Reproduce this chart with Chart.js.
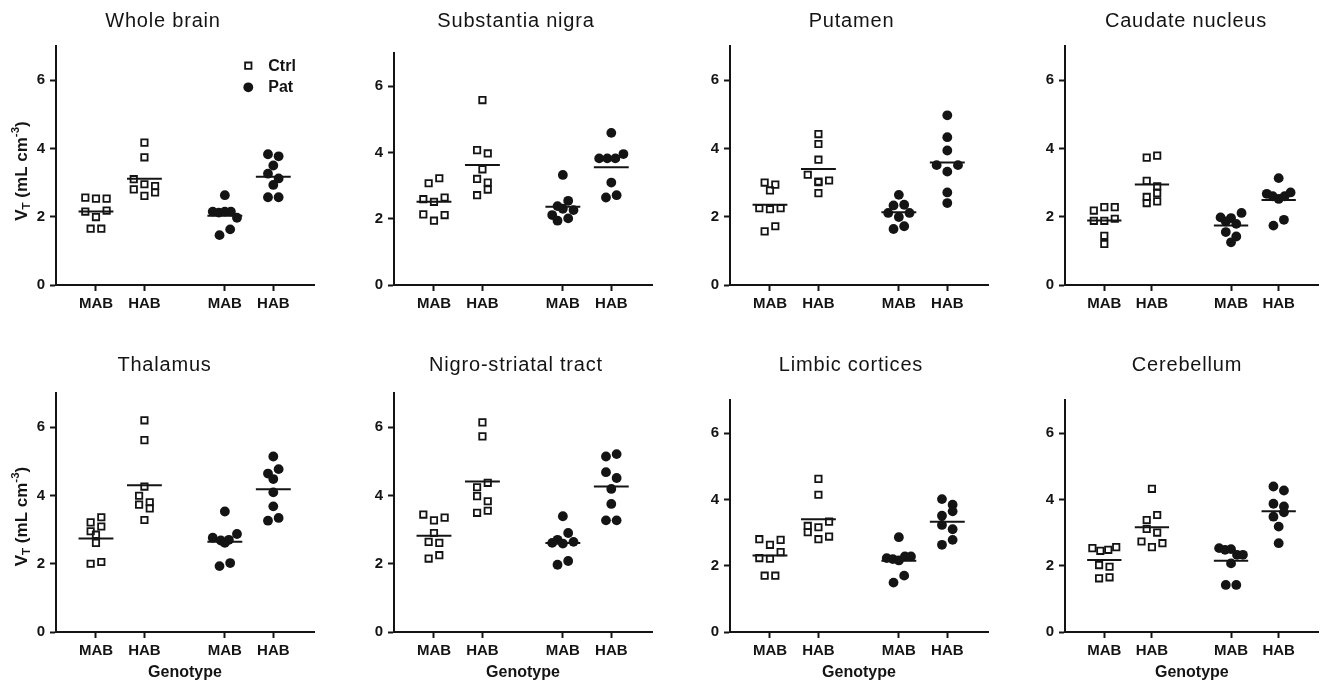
<!DOCTYPE html>
<html>
<head>
<meta charset="utf-8">
<title>VT by genotype</title>
<script src="https://cdn.jsdelivr.net/npm/chart.js@4.4.0/dist/chart.umd.min.js"></script>
<style>
  html, body { margin: 0; padding: 0; background: #fff; overflow: hidden; }
  .panel { position: absolute; }
  .panel canvas { display: block; }
</style>
</head>
<body>
<div id="figure"></div>
<script>
// ── Data ───────────────────────────────────────────────
const regionTitles = ['Whole brain', 'Substantia nigra', 'Putamen', 'Caudate nucleus',
                      'Thalamus', 'Nigro-striatal tract', 'Limbic cortices', 'Cerebellum'];
const groupLabels = ['MAB', 'HAB', 'MAB', 'HAB'];
const groupX = [1, 2, 3.66, 4.66];
const yTicks = [0, 2, 4, 6];

// VT (mL cm-3), one list per region, same order as regionTitles
const ctrlMab = [
    [2.56, 2.53, 2.53, 2.15, 1.99, 2.18, 1.65, 1.65],
    [3.07, 3.22, 2.59, 2.51, 2.64, 2.13, 1.94, 2.11],
    [3.00, 2.77, 2.94, 2.25, 2.22, 2.25, 1.57, 1.72],
    [2.18, 2.28, 2.28, 1.88, 1.88, 1.94, 1.44, 1.20],
    [3.21, 3.36, 2.95, 3.09, 2.85, 2.61, 2.00, 2.05],
    [3.44, 3.27, 3.35, 2.90, 2.64, 2.61, 2.15, 2.25],
    [2.80, 2.63, 2.78, 2.23, 2.21, 2.41, 1.70, 1.70],
    [2.53, 2.45, 2.48, 2.56, 2.02, 1.97, 1.62, 1.65]
];
const ctrlHab = [
    [4.17, 3.74, 3.10, 2.95, 2.90, 2.80, 2.61, 2.71],
    [5.58, 4.07, 3.97, 3.49, 3.20, 3.09, 2.71, 2.88],
    [4.42, 4.13, 3.67, 3.23, 3.03, 3.01, 3.06, 2.69],
    [3.73, 3.79, 3.05, 2.89, 2.58, 2.69, 2.40, 2.45],
    [6.20, 5.62, 4.26, 3.99, 3.80, 3.73, 3.62, 3.28],
    [6.14, 5.73, 4.24, 4.37, 3.98, 3.83, 3.49, 3.55],
    [4.62, 4.14, 3.20, 3.16, 3.33, 3.01, 2.80, 2.88],
    [4.32, 3.38, 3.53, 3.11, 3.00, 2.73, 2.56, 2.68]
];
const patMab = [
    [2.63, 2.15, 2.12, 2.15, 2.15, 1.97, 1.46, 1.63],
    [3.32, 2.38, 2.54, 2.11, 2.30, 2.26, 1.94, 2.01],
    [2.64, 2.33, 2.35, 2.11, 1.99, 2.11, 1.64, 1.72],
    [1.98, 1.96, 2.11, 1.86, 1.79, 1.55, 1.42, 1.25],
    [3.53, 2.76, 2.68, 2.70, 2.87, 2.61, 1.93, 2.02],
    [3.39, 2.70, 2.90, 2.61, 2.59, 2.64, 1.97, 2.08],
    [2.86, 2.23, 2.20, 2.16, 2.28, 2.28, 1.49, 1.70],
    [2.53, 2.48, 2.50, 2.33, 2.33, 2.07, 1.42, 1.42]
];
const patHab = [
    [3.83, 3.77, 3.50, 3.26, 3.12, 2.93, 2.57, 2.57],
    [4.59, 3.82, 3.82, 3.82, 3.95, 3.09, 2.64, 2.71],
    [4.97, 4.33, 3.94, 3.51, 3.32, 3.51, 2.71, 2.40],
    [3.13, 2.67, 2.60, 2.52, 2.60, 2.71, 1.74, 1.91],
    [5.14, 4.64, 4.77, 4.48, 4.09, 3.68, 3.26, 3.34],
    [5.14, 5.21, 4.68, 4.51, 4.19, 3.75, 3.27, 3.27],
    [4.01, 3.84, 3.51, 3.64, 3.23, 3.10, 2.63, 2.78],
    [4.39, 4.27, 3.87, 3.79, 3.48, 3.61, 3.18, 2.68]
];

// group means (horizontal bars)
const meanCtrlMab = [2.15, 2.51, 2.35, 1.89, 2.74, 2.82, 2.31, 2.17];
const meanCtrlHab = [3.11, 3.62, 3.40, 2.94, 4.30, 4.41, 3.40, 3.16];
const meanPatMab  = [2.03, 2.36, 2.13, 1.74, 2.64, 2.61, 2.15, 2.15];
const meanPatHab  = [3.17, 3.55, 3.59, 2.49, 4.18, 4.26, 3.33, 3.64];

// ── Layout (page pixels) ───────────────────────────────
// x/y/w/h: canvas box; l/r/t/b: plot area; tx/ty: title centre & baseline
const panels = [
    { x: 0,    y: 0,   w: 330, h: 340, l: 56,   r: 314,  t: 46,  b: 285, tx: 163,   ty: 27 },
    { x: 330,  y: 0,   w: 335, h: 340, l: 394,  r: 652,  t: 53,  b: 285, tx: 516,   ty: 27 },
    { x: 665,  y: 0,   w: 335, h: 340, l: 730,  r: 988,  t: 46,  b: 285, tx: 851.5, ty: 27 },
    { x: 1000, y: 0,   w: 325, h: 340, l: 1065, r: 1323, t: 46,  b: 285, tx: 1186,  ty: 27 },
    { x: 0,    y: 340, w: 330, h: 343, l: 56,   r: 314,  t: 393, b: 632, tx: 164.5, ty: 371 },
    { x: 330,  y: 340, w: 335, h: 343, l: 394,  r: 652,  t: 393, b: 632, tx: 516,   ty: 371 },
    { x: 665,  y: 340, w: 335, h: 343, l: 730,  r: 988,  t: 400, b: 632, tx: 851,   ty: 371 },
    { x: 1000, y: 340, w: 325, h: 343, l: 1065, r: 1323, t: 400, b: 632, tx: 1187,  ty: 371 }
];

const INK = '#141414';
const FONT = "'Liberation Sans', Arial, Helvetica, sans-serif";
const ROW_GAP = 0.22;     // values closer than this share a row
const STEP = 0.22;        // horizontal spacing in a row (x units)
const MAX_SPREAD = 0.5;   // widest row
const MEAN_HALF = 0.36;   // half length of mean bar
const SQUARE_R = 4.5;
const DOT_R = 4.9;

// Prism-like column scatter: close values are laid out side by side
function swarm(values, center) {
    const order = values.map((v, i) => i).sort((a, b) => values[b] - values[a]);
    const rows = [];
    order.forEach(i => {
        const row = rows[rows.length - 1];
        if (row && values[row[0]] - values[i] <= ROW_GAP) row.push(i);
        else rows.push([i]);
    });
    const pts = [];
    rows.forEach(row => {
        row.sort((a, b) => a - b);
        const n = row.length;
        const step = n > 1 ? Math.min(STEP, MAX_SPREAD / (n - 1)) : 0;
        row.forEach((i, k) => pts.push({ x: center + (k - (n - 1) / 2) * step, y: values[i] }));
    });
    return pts;
}

function meanBar(m, center) {
    return {
        data: [{ x: center - MEAN_HALF, y: m }, { x: center + MEAN_HALF, y: m }],
        showLine: true, borderColor: INK, borderWidth: 2, pointRadius: 0, order: 0
    };
}

function drawYLabel(ctx, cx, cy) {
    const parts = [
        { t: 'V', size: 17, dy: 0 },
        { t: 'T', size: 11.5, dy: 3.5 },
        { t: ' (mL cm', size: 17, dy: 0 },
        { t: '-3', size: 11.5, dy: -7.5 },
        { t: ')', size: 17, dy: 0 }
    ];
    let total = 0;
    parts.forEach(p => {
        ctx.font = 'bold ' + p.size + 'px ' + FONT;
        p.w = ctx.measureText(p.t).width;
        total += p.w;
    });
    ctx.save();
    ctx.translate(cx, cy);
    ctx.rotate(-Math.PI / 2);
    ctx.textAlign = 'left';
    ctx.textBaseline = 'alphabetic';
    let x = -total / 2;
    parts.forEach(p => {
        ctx.font = 'bold ' + p.size + 'px ' + FONT;
        ctx.fillText(p.t, x, 6 + p.dy);
        x += p.w;
    });
    ctx.restore();
}

function drawLegend(ctx, area) {
    const mx = area.left + 192.3;
    const y1 = area.top + 19.7, y2 = area.top + 41.3;
    const half = SQUARE_R * Math.SQRT1_2;
    ctx.save();
    ctx.strokeStyle = INK;
    ctx.lineWidth = 1.8;
    ctx.fillStyle = '#fff';
    ctx.beginPath();
    ctx.rect(mx - half, y1 - half, 2 * half, 2 * half);
    ctx.fill();
    ctx.stroke();
    ctx.fillStyle = INK;
    ctx.beginPath();
    ctx.arc(mx, y2, DOT_R, 0, Math.PI * 2);
    ctx.fill();
    ctx.font = 'bold 16px ' + FONT;
    ctx.textAlign = 'left';
    ctx.textBaseline = 'middle';
    ctx.fillText('Ctrl', mx + 20, y1 + 0.5);
    ctx.fillText('Pat', mx + 20, y2 + 0.5);
    ctx.restore();
}

// titles, y label, legend
const panelText = {
    id: 'panelText',
    afterDraw(chart, args, opts) {
        const ctx = chart.ctx;
        ctx.save();
        ctx.fillStyle = INK;
        ctx.font = '20px ' + FONT;
        ctx.letterSpacing = '0.8px';
        ctx.textAlign = 'center';
        ctx.textBaseline = 'alphabetic';
        ctx.fillText(opts.title, opts.titleX, opts.titleY);
        ctx.letterSpacing = '0px';
        if (opts.yLabel) drawYLabel(ctx, opts.yLabel.x, opts.yLabel.y);
        if (opts.legend) drawLegend(ctx, chart.chartArea);
        ctx.restore();
    }
};

function buildPanel(k) {
    const p = panels[k];
    const holder = document.createElement('div');
    holder.className = 'panel';
    holder.style.left = p.x + 'px';
    holder.style.top = p.y + 'px';
    const canvas = document.createElement('canvas');
    canvas.width = p.w;
    canvas.height = p.h;
    canvas.style.width = p.w + 'px';
    canvas.style.height = p.h + 'px';
    holder.appendChild(canvas);
    document.getElementById('figure').appendChild(holder);

    const yW = p.l - p.x;
    const xH = p.y + p.h - p.b;
    const bottomRow = k >= 4;
    const tickFont = { family: FONT, size: 15, weight: 'bold' };

    const ctrlPts = swarm(ctrlMab[k], groupX[0]).concat(swarm(ctrlHab[k], groupX[1]));
    const patPts = swarm(patMab[k], groupX[2]).concat(swarm(patHab[k], groupX[3]));

    new Chart(canvas, {
        type: 'scatter',
        data: {
            datasets: [
                meanBar(meanCtrlMab[k], groupX[0]),
                meanBar(meanCtrlHab[k], groupX[1]),
                meanBar(meanPatMab[k], groupX[2]),
                meanBar(meanPatHab[k], groupX[3]),
                {
                    label: 'Ctrl', data: ctrlPts, order: 1,
                    pointStyle: 'rect', pointRadius: SQUARE_R,
                    backgroundColor: 'rgba(255,255,255,0)', borderColor: INK, borderWidth: 1.8
                },
                {
                    label: 'Pat', data: patPts, order: 1,
                    pointStyle: 'circle', pointRadius: DOT_R,
                    backgroundColor: INK, borderColor: INK, borderWidth: 0
                }
            ]
        },
        options: {
            responsive: false,
            devicePixelRatio: 1,
            animation: false,
            events: [],
            layout: { padding: { left: 0, right: p.x + p.w - p.r, top: p.t - p.y, bottom: 0 } },
            plugins: {
                legend: { display: false },
                tooltip: { enabled: false },
                panelText: {
                    title: regionTitles[k],
                    titleX: p.tx - p.x,
                    titleY: p.ty - p.y,
                    yLabel: (k % 4 === 0) ? { x: 20.5, y: (k === 0 ? 171 : 516.5) - p.y } : null,
                    legend: k === 0
                }
            },
            scales: {
                x: {
                    type: 'linear', min: 0.175, max: 5.5,
                    afterBuildTicks: s => { s.ticks = groupX.map(v => ({ value: v })); },
                    afterFit: s => { s.height = xH; },
                    grid: { display: true, drawOnChartArea: false, drawTicks: true, tickLength: 6, tickWidth: 2, tickColor: INK },
                    border: { display: true, color: INK, width: 2 },
                    ticks: {
                        autoSkip: false, maxRotation: 0, padding: 4, color: INK, font: tickFont,
                        callback: (v, i) => groupLabels[i]
                    },
                    title: {
                        display: bottomRow, text: 'Genotype', color: INK,
                        font: { family: FONT, size: 16, weight: 'bold' },
                        padding: { top: 0, bottom: 1 }
                    }
                },
                y: {
                    min: 0, max: 7,
                    afterBuildTicks: s => { s.ticks = yTicks.map(v => ({ value: v })); },
                    afterFit: s => { s.width = yW; },
                    grid: { display: true, drawOnChartArea: false, drawTicks: true, tickLength: 6, tickWidth: 2, tickColor: INK },
                    border: { display: true, color: INK, width: 2 },
                    ticks: { padding: 5, color: INK, font: tickFont }
                }
            }
        },
        plugins: [panelText]
    });
}

panels.forEach((p, k) => buildPanel(k));
</script>
</body>
</html>
